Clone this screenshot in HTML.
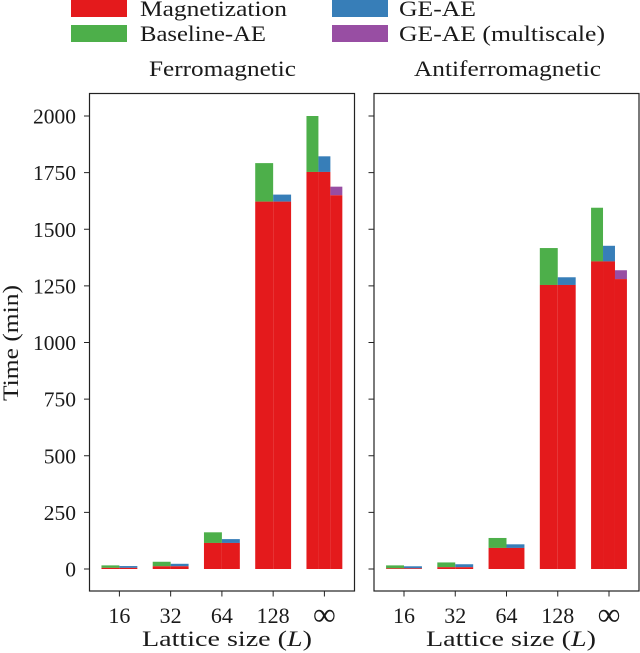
<!DOCTYPE html>
<html lang="en">
<head>
<meta charset="utf-8">
<title>Runtime by lattice size</title>
<style>
html,body{margin:0;padding:0;background:#fff;width:640px;height:653px;overflow:hidden}
svg{display:block}
text{font-family:"Liberation Serif",serif;fill:#1a1a1a}
</style>
</head>
<body>
<svg id="chart" width="640" height="653" viewBox="0 0 640 653" xmlns="http://www.w3.org/2000/svg"></svg>
<script>
const categories = ['16', '32', '64', '128', '\u221E'];
const yTickLabels = [0, 250, 500, 750, 1000, 1250, 1500, 1750, 2000];

const ferroMagnetization = [5, 12, 115, 1622, 1753];
const ferroBaselineAE = [16, 32, 162, 1792, 2000];
const ferroGEAE = [13, 23, 132, 1653, 1822];
const ferroMultiscale = [null, null, null, null, 1688];
const ferroMultiscaleBase = [null, null, null, null, 1650];

const antiMagnetization = [3, 8, 93, 1254, 1358];
const antiBaselineAE = [16, 29, 137, 1417, 1595];
const antiGEAE = [12, 21, 109, 1288, 1427];
const antiMultiscale = [null, null, null, null, 1319];
const antiMultiscaleBase = [null, null, null, null, 1280];

const RED = '#e41a1c', GREEN = '#4daf4a', BLUE = '#377eb8', PURPLE = '#984ea3';
const NS = 'http://www.w3.org/2000/svg';
const svg = document.getElementById('chart');

function make(tag, attrs, text) {
  const el = document.createElementNS(NS, tag);
  for (const k in attrs) el.setAttribute(k, attrs[k]);
  if (text !== undefined) el.textContent = text;
  svg.appendChild(el);
  return el;
}

const plotTop = 93.5, plotBottom = 591, yZero = 569, yPerUnit = 0.2265;
const yScale = v => yZero - v * yPerUnit;

function drawPanel(panel) {
  const xScale = i => panel.firstTick + i * 51.25;
  const unit = 51.25;

  function bar(x, w, lo, hi, color, name) {
    const r = make('rect', {x: x, y: yScale(hi), width: w, height: yScale(lo) - yScale(hi), fill: color});
    
    
  }

  categories.forEach((c, i) => {
    const hasThird = panel.multi[i] !== null;
    const n = hasThird ? 3 : 2;
    const w = 0.7 * unit / n;
    const x0 = xScale(i) - 0.35 * unit;
    const key = panel.key + '-' + (c === '\u221E' ? 'infinity' : c);
    bar(x0, w, panel.mag[i], panel.base[i], GREEN, 'baseline-ae-bar-' + key);
    bar(x0 + w, w, panel.mag[i], panel.ge[i], BLUE, 'ge-ae-bar-' + key);
    bar(x0, w, 0, panel.mag[i], RED, 'magnetization-bar-baseline-' + key);
    bar(x0 + w, w, 0, panel.mag[i], RED, 'magnetization-bar-ge-' + key);
    if (hasThird) {
      bar(x0 + 2 * w, w, panel.multiBase[i], panel.multi[i], PURPLE, 'ge-ae-multiscale-bar-' + key);
      bar(x0 + 2 * w, w, 0, panel.multiBase[i], RED, 'magnetization-bar-multiscale-' + key);
    }
    const tick = make('line', {x1: xScale(i), x2: xScale(i), y1: plotBottom, y2: plotBottom + 5.5, stroke: '#222', 'stroke-width': 1});
    
    
    const isInf = c === '\u221E';
    const lab = make('text', {x: xScale(i), y: isInf ? 625 : 623, 'text-anchor': 'middle', 'font-size': isInf ? 32 : 22}, c);
    
    
  });

  yTickLabels.forEach(v => {
    const y = yScale(v);
    const t = make('line', {x1: panel.left - 5.5, x2: panel.left, y1: y, y2: y, stroke: '#222', 'stroke-width': 1});
    
    
    if (panel.labels) {
      const l = make('text', {x: 76, y: y + 7.5, 'text-anchor': 'end', 'font-size': 21.5}, String(v));
      
      
    }
  });

  const frame = make('rect', {x: panel.left, y: plotTop, width: panel.right - panel.left, height: plotBottom - plotTop, fill: 'none', stroke: '#222', 'stroke-width': 1.2});
  
  

  const title = make('text', {x: panel.titleX, y: 76, 'font-size': 22.5, textLength: panel.titleLen, lengthAdjust: 'spacingAndGlyphs'}, panel.title);
  
  

  const xl = make('text', {x: panel.xLabelX, y: 646, 'font-size': 22.5, textLength: 170, lengthAdjust: 'spacingAndGlyphs'});
  
  
  const a = document.createElementNS(NS, 'tspan');
  a.textContent = 'Lattice size (';
  const b = document.createElementNS(NS, 'tspan');
  b.setAttribute('font-style', 'italic');
  b.textContent = 'L';
  const d = document.createElementNS(NS, 'tspan');
  d.textContent = ')';
  xl.appendChild(a); xl.appendChild(b); xl.appendChild(d);
}

drawPanel({key: 'ferromagnetic', title: 'Ferromagnetic', left: 89.5, right: 354.5, firstTick: 119.4, labels: true,
  titleX: 149, titleLen: 147, xLabelX: 142,
  mag: ferroMagnetization, base: ferroBaselineAE, ge: ferroGEAE, multi: ferroMultiscale, multiBase: ferroMultiscaleBase});
drawPanel({key: 'antiferromagnetic', title: 'Antiferromagnetic', left: 374, right: 639, firstTick: 404, labels: false,
  titleX: 414, titleLen: 187, xLabelX: 426,
  mag: antiMagnetization, base: antiBaselineAE, ge: antiGEAE, multi: antiMultiscale, multiBase: antiMultiscaleBase});

const yTitle = make('text', {x: 0, y: 0, transform: 'translate(18,343) rotate(-90)', 'text-anchor': 'middle', 'font-size': 22.5, textLength: 116, lengthAdjust: 'spacingAndGlyphs'}, 'Time (min)');



const legendLabels = ['Magnetization', 'Baseline-AE', 'GE-AE', 'GE-AE (multiscale)'];
const legendColors = [RED, GREEN, BLUE, PURPLE];
const legendRectX = [71, 71, 332, 332];
const legendRectY = [0, 25, 0, 25];
const legendTextX = [140, 140, 399, 399];
const legendTextY = [16, 41, 16, 41];
const legendTextLen = [147, 126, 77, 206];
const legendKeys = ['magnetization', 'baseline-ae', 'ge-ae', 'ge-ae-multiscale'];
legendLabels.forEach((lab, i) => {
  const r = make('rect', {x: legendRectX[i], y: legendRectY[i], width: 56, height: 17, fill: legendColors[i]});
  
  
  const t = make('text', {x: legendTextX[i], y: legendTextY[i], 'font-size': 22.5, textLength: legendTextLen[i], lengthAdjust: 'spacingAndGlyphs'}, lab);
  
  
});
</script>
</body>
</html>
